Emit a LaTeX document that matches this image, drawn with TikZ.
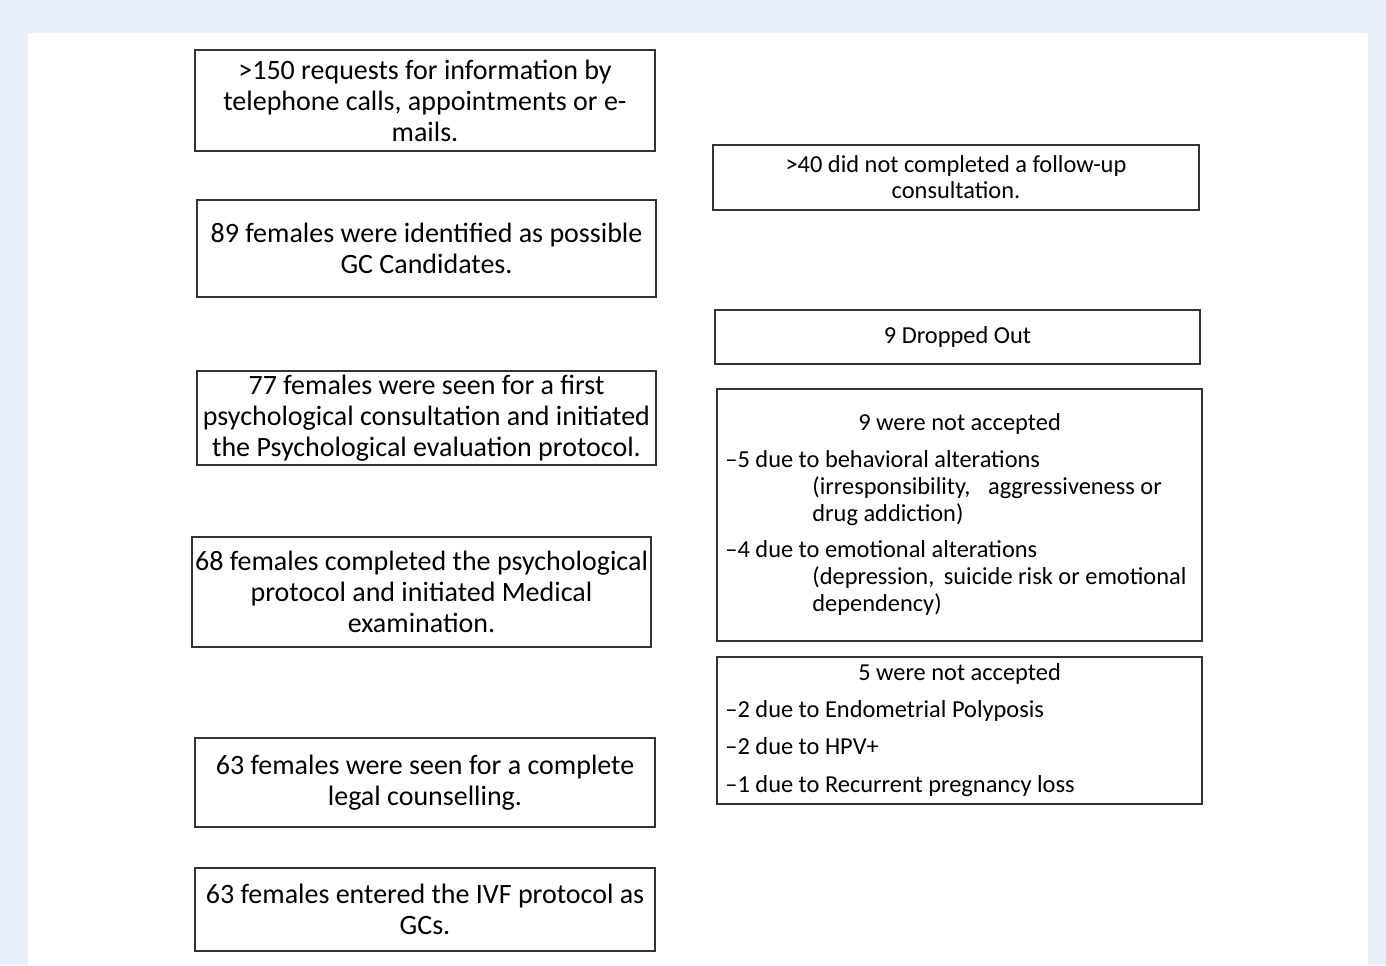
\documentclass[tikz,border=0pt]{standalone}
\usepackage{fontspec}
\setmainfont{Carlito}
\definecolor{bgblue}{HTML}{E9EFF8}
\tikzset{
  box/.style={draw=black!80, line width=1pt, align=center, inner sep=0pt, font=\fontsize{14}{15.5}\selectfont},
  sidebox/.style={draw=black!80, line width=1pt, align=center, inner sep=0pt, font=\fontsize{12.2}{13}\selectfont},
  sideline/.style={anchor=west, inner sep=0pt, text height=9pt, text depth=2.6pt, font=\fontsize{12.2}{13}\selectfont},
}
\begin{document}
\begin{tikzpicture}[x=0.5pt,y=-0.5pt]
  \fill[bgblue] (0,0) rectangle (1386,965); %frame
  \fill[white] (28,33) rectangle (1368,965); %page

  % main column
  \node[box, minimum width=230pt, minimum height=50.5pt] (req) at (425,100.5) {>150 requests for information by\\telephone calls, appointments or e-\\mails.}; %requests
  \node[box, minimum width=229.5pt, minimum height=48.5pt] (ident) at (426.5,248.5) {89 females were identified as possible\\GC Candidates.}; %identified
  \node[box, minimum width=229.5pt, minimum height=47pt] (psyfirst) at (426.5,418) {77 females were seen for a first\\psychological consultation and initiated\\the Psychological evaluation protocol.}; %first consultation
  \node[box, minimum width=229.5pt, minimum height=55pt] (medexam) at (421.5,592) {68 females completed the psychological\\protocol and initiated Medical\\examination.}; %medical
  \node[box, minimum width=230pt, minimum height=44.5pt] (legal) at (425,782.5) {63 females were seen for a complete\\legal counselling.}; %legal
  \node[box, minimum width=230pt, minimum height=41.5pt] (ivf) at (425,909.5) {63 females entered the IVF protocol as\\GCs.}; %ivf

  % side column
  \node[sidebox, minimum width=243pt, minimum height=32.5pt] (followup) at (956,177.5) {>40 did not completed a follow-up\\consultation.}; %follow-up
  \node[sidebox, minimum width=242.5pt, minimum height=27pt] (dropped) at (957.5,337) {9 Dropped Out}; %dropped
  \node[sidebox, minimum width=242.5pt, minimum height=126pt] (psyreject) at (959.5,515) {}; %psy rejected
  \node[sidebox, minimum width=242.5pt, minimum height=73.5pt] (medreject) at (959.5,730.5) {}; %med rejected

  \node[sideline, anchor=center] (psytitle) at (959.5,424) {9 were not accepted};
  \node[sideline] (behav) at (725,461) {–5 due to behavioral alterations};
  \node[sideline] (behava) at (812,488) {(irresponsibility,\hspace{6pt} aggressiveness or};
  \node[sideline] (behavb) at (812,515) {drug addiction)};
  \node[sideline] (emot) at (725,551) {–4 due to emotional alterations};
  \node[sideline] (emota) at (812,578) {(depression,\hspace{2pt} suicide risk or emotional};
  \node[sideline] (emotb) at (812,605) {dependency)};

  \node[sideline, anchor=center] (medtitle) at (959.5,674) {5 were not accepted};
  \node[sideline] (polyp) at (725,711) {–2 due to Endometrial Polyposis};
  \node[sideline] (hpv) at (725,748) {–2 due to HPV+};
  \node[sideline] (preg) at (725,786) {–1 due to Recurrent pregnancy loss};
\end{tikzpicture}
\end{document}
